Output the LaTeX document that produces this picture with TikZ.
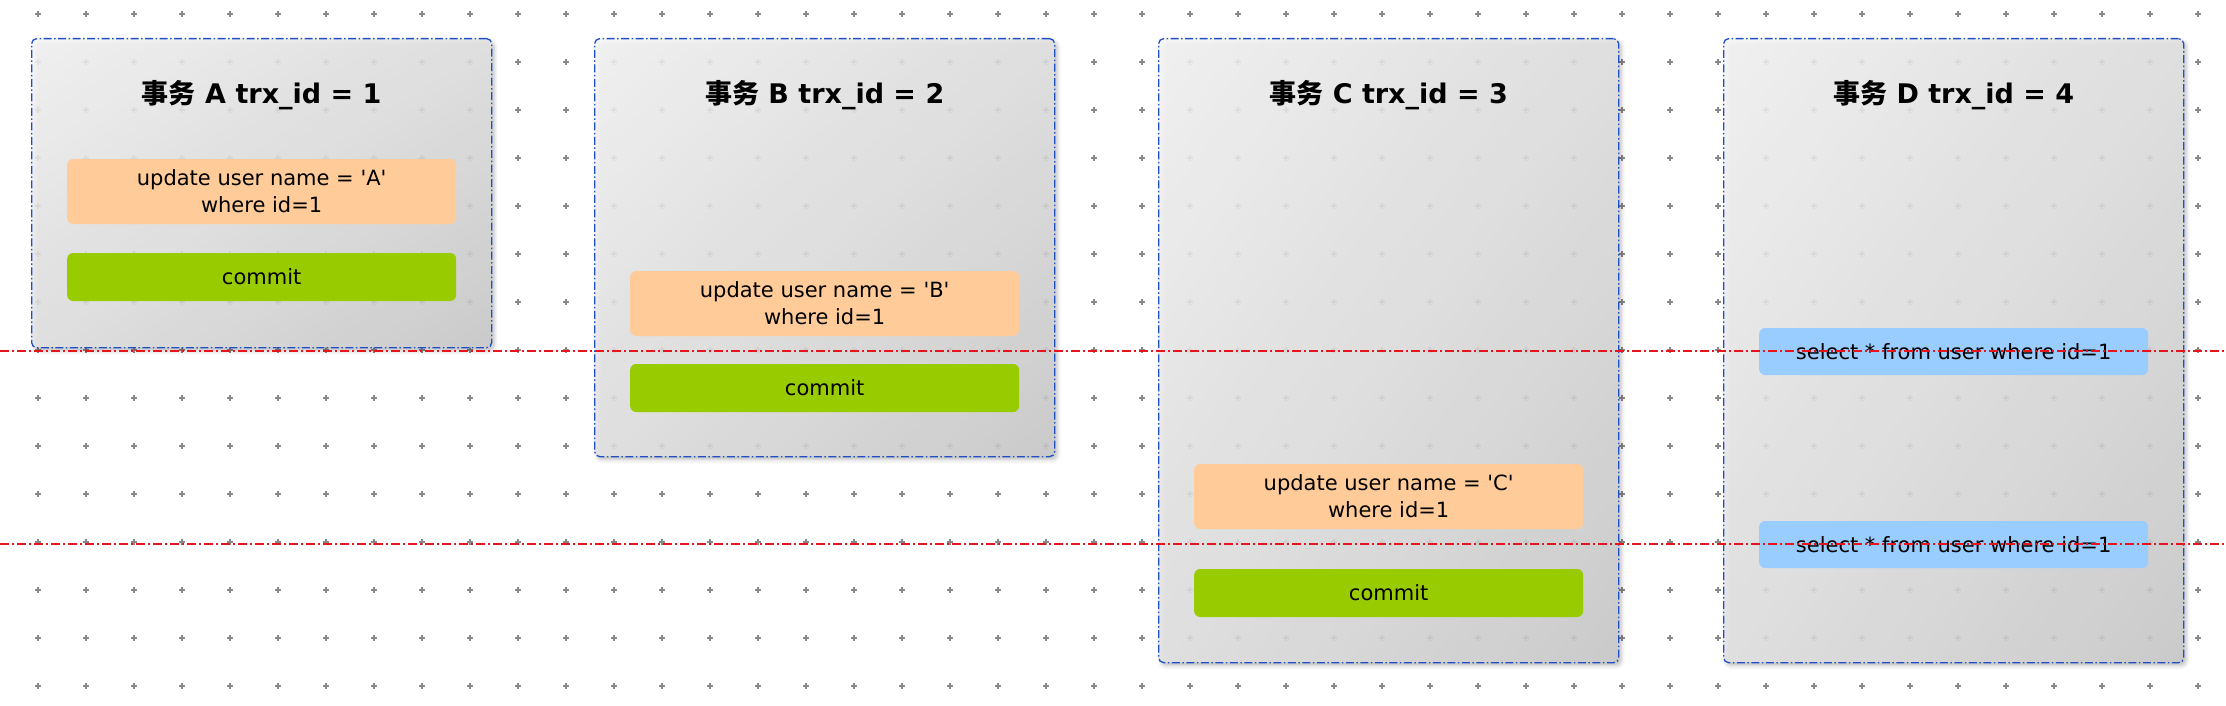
\documentclass[tikz,border=0pt]{standalone}
\usepackage{fontspec}
\setmainfont{DejaVu Sans}
\newfontfamily\cjk{Noto Sans CJK SC}
\usetikzlibrary{calc,shadows.blur,shadings}

\definecolor{updOrange}{HTML}{FFCC99}
\definecolor{commitGreen}{HTML}{99CC00}
\definecolor{selBlue}{HTML}{99CCFF}
\definecolor{frameBlue}{HTML}{1F4FC4}
\definecolor{cutRed}{HTML}{E8141C}
\definecolor{gridGray}{HTML}{888888}
\definecolor{shadeUL}{HTML}{F8F8F8}
\definecolor{shadeMid}{HTML}{E4E4E4}
\definecolor{shadeLR}{HTML}{CDCDCD}

\tikzset{
  txbox/.style={draw=frameBlue, line width=1.3pt,
    dash pattern=on 8pt off 2.5pt on 1.5pt off 2.5pt,
    rounded corners=5pt, anchor=north west, inner sep=0pt,
    minimum width=460pt,
    upper left=shadeUL, upper right=shadeMid,
    lower left=shadeMid, lower right=shadeLR,
    fill opacity=0.86,
    blur shadow={shadow xshift=2.5pt, shadow yshift=-3pt,
      shadow blur radius=4pt, shadow opacity=30}},
  txtitle/.style={font=\fontsize{27}{30}\selectfont\bfseries},
  stmt/.style={rounded corners=6pt, inner sep=0pt, minimum width=389pt,
    align=center, font=\fontsize{21}{27}\selectfont},
  updbox/.style={stmt, fill=updOrange, minimum height=65pt},
  commitbox/.style={stmt, fill=commitGreen, minimum height=48pt},
  selbox/.style={stmt, fill=selBlue, minimum height=47pt},
  gridplus/.style={draw=gridGray, line width=1.3pt},
  cutline/.style={draw=cutRed, line width=1.2pt,
    dash pattern=on 9pt off 3pt on 2pt off 3pt}
}

\begin{document}
\begin{tikzpicture}[x=1pt,y=-1pt]
  \useasboundingbox (0,0) rectangle (2226,706);

  %% background grid of small crosses
  \foreach \i in {0,1,...,45}
  {
    \foreach \j in {0,1,...,14}
    {
      \draw[gridplus] ({38+48*\i-3},{14+48*\j}) -- ++(6,0)
                      ({38+48*\i},{14+48*\j-3}) -- ++(0,6);
    }
  }

  %% one frame per transaction
  \foreach \n/\x/\h/\i in {A/31/309/1, B/594/418/2, C/1158/624/3, D/1723/624/4}
  {
    \node[txbox, minimum height=\h pt] (TX\n) at (\x,38) {};
    \node[txtitle] (TT\n) at ($(TX\n.north)+(0,57)$)
      {{\cjk\bfseries 事务} \n\ trx\_id = \i};
  }

  %% update and commit of A, B and C
  \foreach \n/\u/\c in {A/121/215, B/233/326, C/426/531}
  {
    \node[updbox] (UPD\n) at ($(TX\n.north)+(0,\u+32.5)$)
      {update user name = \textquotesingle\n\textquotesingle\\where id=1};
    \node[commitbox] (COM\n) at ($(TX\n.north)+(0,\c+24)$) {commit};
  }

  %% the two reads of D
  \foreach \s/\y in {1/290, 2/483}
  {
    \node[selbox] (SEL\s) at ($(TXD.north)+(0,\y+23.5)$)
      {select * from user where id=1};
  }

  %% time cuts
  \draw[cutline] (0,351) -- (2226,351);
  \draw[cutline] (0,544) -- (2226,544);

\end{tikzpicture}
\end{document}
